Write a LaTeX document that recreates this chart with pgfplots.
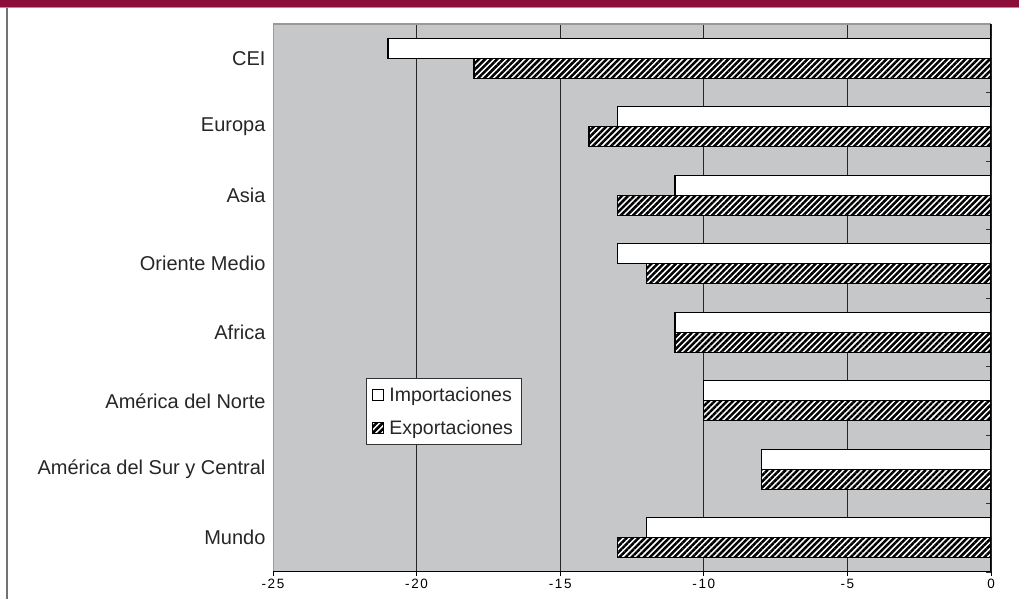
\documentclass[border=0pt]{standalone}
\usepackage{fontspec}
\setmainfont{Liberation Sans}
\usepackage{pgfplots}
\pgfplotsset{compat=1.18}
\usepackage{pgfplotstable}
\usetikzlibrary{patterns.meta}
\definecolor{maroon}{RGB}{139,14,58}
\definecolor{plotbg}{RGB}{198,199,201}

\pgfplotsset{sqlegend/.style={legend image code/.code={\draw[##1, line width=1bp] (0bp,-5.5bp) rectangle (11bp,5.5bp);}}}

\pgfplotstableread{
y imp exp
0 -12 -13
1 -8 -8
2 -10 -10
3 -11 -11
4 -13 -12
5 -11 -13
6 -13 -14
7 -21 -18
}\datatable

\begin{document}
\begin{tikzpicture}[x=1bp,y=1bp]
\path[use as bounding box] (0,0) rectangle (1019,599);
\fill[maroon] (0,591.5) rectangle (1019,599);
\draw[black!40, line width=1bp] (0,591) -- (1019,591);
\draw[black!55, line width=2bp] (7,0) -- (7,591);
\begin{axis}[
  at={(273bp,27bp)}, anchor=south west,
  scale only axis, width=718bp, height=548bp,
  xmin=-25, xmax=0, ymin=-0.5, ymax=7.5,
  axis background/.style={fill=plotbg},
  axis line style={draw=none},
  xbar, bar width=20bp,
  xtick={-25,-20,-15,-10,-5,0},
  xticklabels={-25,-20,-15,-10,-5,0},
  xtick pos=left,
  xtick align=outside,
  xticklabel style={font=\fontsize{13.5bp}{16bp}\selectfont\addfontfeature{LetterSpace=12}},
  ytick={0,...,7},
  yticklabels={Mundo, América del Sur y Central, América del Norte, Africa\ , Oriente Medio, Asia\ , Europa, CEI},
  yticklabel style={font=\fontsize{20bp}{23bp}\selectfont, color=black!85, xshift=-4bp},
  ytick pos=right, yticklabel pos=left,
  minor ytick={-0.5,0.5,...,7.5},
  ytick align=inside,
  major tick length=4bp, minor tick length=5bp,
  every major y tick/.style={draw=none},
  every minor y tick/.style={draw=black!80, line width=0.8bp},
  every major x tick/.style={draw=black, line width=0.8bp},
  xmajorgrids, grid style={black!85, line width=0.8bp},
  legend cell align=left,
  legend style={at={(0.1295,0.354)}, anchor=north west, draw=black!80, line width=0.8bp, fill=white,
    font=\fontsize{19.5bp}{22bp}\selectfont, inner xsep=6bp, inner ysep=7bp, row sep=13bp, text=black!85,
    /tikz/every odd column/.append style={column sep=3bp}},
]
\addplot[draw=black, line width=1.3bp, fill=white, bar shift=10bp, sqlegend]
  table[x=imp,y=y]{\datatable};
\addlegendentry{Importaciones}
\addplot[draw=black, line width=1.3bp, fill=white,
  postaction={pattern={Lines[angle=45,distance=4.3bp,line width=2.5bp]}}, bar shift=-10bp, sqlegend]
  table[x=exp,y=y]{\datatable};
\addlegendentry{Exportaciones}
\draw[black!40, line width=1.2bp] (rel axis cs:0,0) -- (rel axis cs:0,1) -- (rel axis cs:1,1);
\draw[black, line width=1.2bp] (rel axis cs:0,0) -- (rel axis cs:1,0) -- (rel axis cs:1,1);
\end{axis}
\end{tikzpicture}
\end{document}
